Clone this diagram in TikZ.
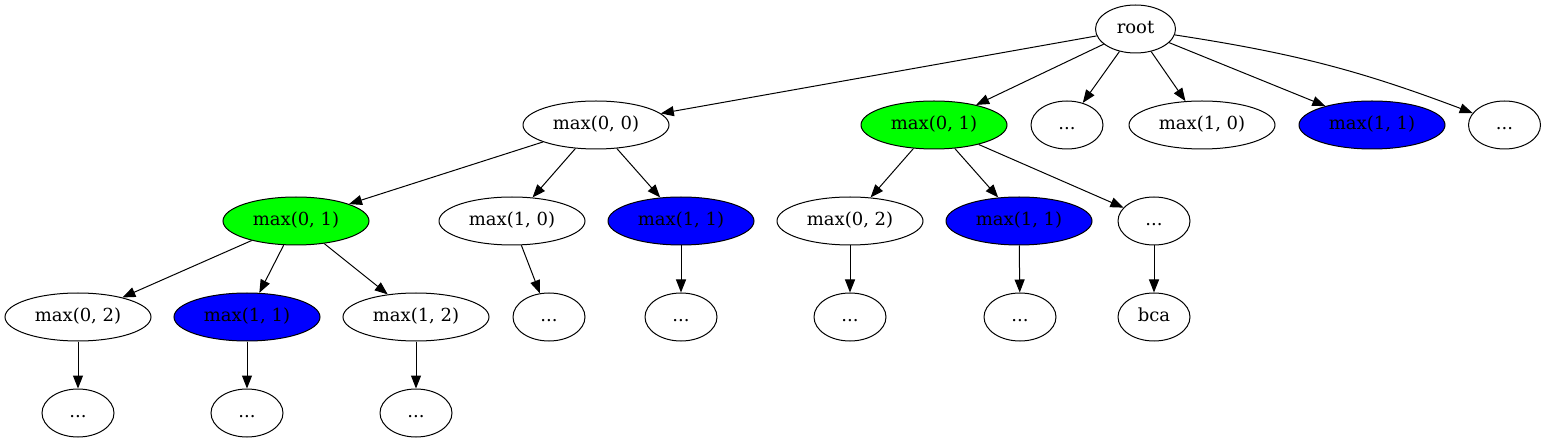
\documentclass[tikz,border=0pt]{standalone}
\usepackage{fontspec}
\setmainfont{DejaVu Serif}
\usetikzlibrary{shapes.geometric,arrows.meta}
\definecolor{gvgreen}{HTML}{00FF00}
\definecolor{gvblue}{HTML}{0000FF}
\tikzset{
  gv/.style={ellipse, draw=black, line width=1pt, inner sep=0pt, minimum height=48pt, text height=13pt, text depth=4pt, font=\fontsize{18}{20}\selectfont},
  wide/.style={gv, minimum width=146pt},
  dots/.style={gv, minimum width=72pt},
  grn/.style={fill=gvgreen},
  blu/.style={fill=gvblue},
  edge/.style={draw=black, line width=1pt, -{Triangle[length=13pt,width=10pt]}}
}
\begin{document}
\begin{tikzpicture}[x=1pt,y=-1pt]
\useasboundingbox (0,0) rectangle (1546,443);
% level 0
\node[gv, minimum width=80pt] (root) at (1135.5,29) {root};
% level 1
\node[wide] (m00) at (596,125) {max(0, 0)};
\node[wide,grn] (m01) at (934,125) {max(0, 1)};
\node[dots] (d1) at (1067,125) {...};
\node[wide] (m10) at (1202,125) {max(1, 0)};
\node[wide,blu] (m11) at (1372,125) {max(1, 1)};
\node[dots] (d2) at (1504.5,125) {...};
% level 2
\node[wide,grn] (a01) at (296,221) {max(0, 1)};
\node[wide] (a10) at (512,221) {max(1, 0)};
\node[wide,blu] (a11) at (681,221) {max(1, 1)};
\node[wide] (b02) at (850,221) {max(0, 2)};
\node[wide,blu] (b11) at (1019,221) {max(1, 1)};
\node[dots] (bd) at (1154,221) {...};
% level 3
\node[wide] (c02) at (78,317) {max(0, 2)};
\node[wide,blu] (c11) at (247,317) {max(1, 1)};
\node[wide] (c12) at (416,317) {max(1, 2)};
\node[dots] (e1) at (549,317) {...};
\node[dots] (e2) at (681,317) {...};
\node[dots] (e3) at (850,317) {...};
\node[dots] (e4) at (1020,317) {...};
\node[dots] (bca) at (1154,317) {bca};
% level 4
\node[dots] (f1) at (78,413) {...};
\node[dots] (f2) at (247,413) {...};
\node[dots] (f3) at (416,413) {...};
% edges
\path[edge] (root) -- (m00);
\path[edge] (root) -- (m01);
\path[edge] (root) -- (d1);
\path[edge] (root) -- (m10);
\path[edge] (root) -- (m11);
\path[edge] (root) to[bend left=6] (d2);
\path[edge] (m00) -- (a01);
\path[edge] (m00) -- (a10);
\path[edge] (m00) -- (a11);
\path[edge] (m01) -- (b02);
\path[edge] (m01) -- (b11);
\path[edge] (m01) -- (bd);
\path[edge] (a01) -- (c02);
\path[edge] (a01) -- (c11);
\path[edge] (a01) -- (c12);
\path[edge] (a10) -- (e1);
\path[edge] (a11) -- (e2);
\path[edge] (b02) -- (e3);
\path[edge] (b11) -- (e4);
\path[edge] (bd) -- (bca);
\path[edge] (c02) -- (f1);
\path[edge] (c11) -- (f2);
\path[edge] (c12) -- (f3);
\end{tikzpicture}
\end{document}
